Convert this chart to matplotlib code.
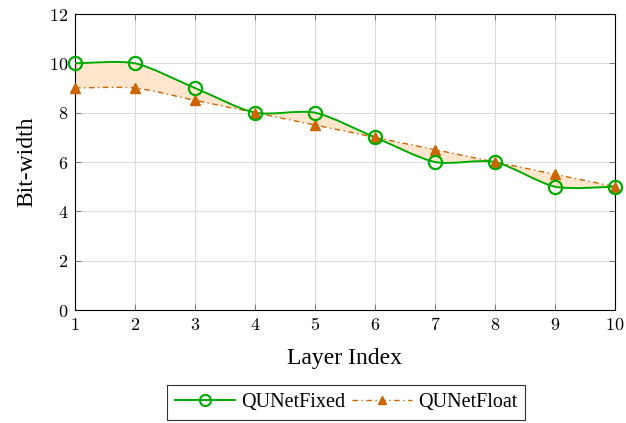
import matplotlib.pyplot as plt
import numpy as np
from matplotlib.path import Path
from matplotlib.patches import PathPatch
from matplotlib.lines import Line2D

plt.rcParams['font.family'] = ['Liberation Serif', 'DejaVu Serif']
plt.rcParams['mathtext.fontset'] = 'cm'

layers = [1, 2, 3, 4, 5, 6, 7, 8, 9, 10]
fixed = [10, 10, 9, 8, 8, 7, 6, 6, 5, 5]
floating = [9, 9, 8.5, 8, 7.5, 7, 6.5, 6, 5.5, 5]
yticks = [0, 2, 4, 6, 8, 10, 12]

green = '#00aa00'
orange = '#cc6600'
fillc = '#ffe6cc'


def smooth_path(xs, ys, k=0.13):
    # bezier through the points, like tikz "smooth"
    p = np.column_stack([xs, ys]).astype(float)
    n = len(p)
    verts = [p[0]]
    codes = [Path.MOVETO]
    for i in range(n - 1):
        prev = p[i - 1] if i > 0 else p[i]
        nxt = p[i + 2] if i + 2 < n else p[i + 1]
        c1 = p[i] + (p[i + 1] - prev) * k
        c2 = p[i + 1] - (nxt - p[i]) * k
        verts += [c1, c2, p[i + 1]]
        codes += [Path.CURVE4] * 3
    return verts, codes


fig = plt.figure(figsize=(6.26, 4.23), dpi=100)
ax = fig.add_axes([0.1198, 0.2671, 0.8626, 0.6998])

v1, c1 = smooth_path(layers, fixed)
v2, c2 = smooth_path(layers[::-1], floating[::-1])
c2[0] = Path.LINETO
fill_path = Path(v1 + v2 + [v1[0]], c1 + c2 + [Path.CLOSEPOLY])
ax.add_patch(PathPatch(fill_path, facecolor=fillc, edgecolor='none', zorder=1))

ax.add_patch(PathPatch(Path(*smooth_path(layers, floating)), facecolor='none',
                       edgecolor=orange, lw=1.0, linestyle=(0, (4, 2.5, 1, 2.5)), zorder=2))
ax.add_patch(PathPatch(Path(*smooth_path(layers, fixed)), facecolor='none',
                       edgecolor=green, lw=1.4, zorder=3))

ax.plot(layers, floating, linestyle='none', marker='^', ms=6.5, color=orange, zorder=4, clip_on=False)
ax.plot(layers, fixed, linestyle='none', marker='o', ms=9.5, mfc='none', mec=green, mew=1.6,
        zorder=5, clip_on=False)

ax.set_xlim(1, 10)
ax.set_ylim(0, 12)
ax.set_xticks(layers)
ax.set_xticklabels(['$%d$' % v for v in layers])
ax.set_yticks(yticks)
ax.set_yticklabels(['$%d$' % v for v in yticks])
ax.grid(True, color='#dcdcdc', lw=0.8, zorder=0)
ax.set_axisbelow(True)
ax.tick_params(direction='in', length=4, width=0.6, color='#666666', labelsize=13,
               top=True, right=True, pad=5)
for s in ax.spines.values():
    s.set_linewidth(0.8)
ax.set_xlabel('Layer Index', fontsize=17, labelpad=10)
ax.set_ylabel('Bit-width', fontsize=17, labelpad=8)

handles = [
    Line2D([], [], color=green, lw=1.4, marker='o', ms=8, mfc='none', mec=green, mew=1.5),
    Line2D([], [], color=orange, lw=1.0, linestyle=(0, (4, 2.5, 1, 2.5)), marker='^', ms=6),
]
leg = fig.legend(handles, ['QUNetFixed', 'QUNetFloat'], loc='center', bbox_to_anchor=(0.553, 0.049),
                 ncol=2, fontsize=14.5, frameon=True, fancybox=False, edgecolor='black',
                 handlelength=3, columnspacing=0.3, handletextpad=0.3, borderpad=0.4)
leg.get_frame().set_linewidth(0.8)

fig.savefig('out.png', dpi=100)
plt.close()
